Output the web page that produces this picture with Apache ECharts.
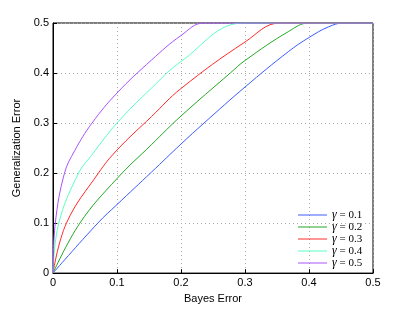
<!DOCTYPE html>
<html>
<head>
<meta charset="utf-8">
<script src="https://cdn.jsdelivr.net/npm/echarts@6/dist/echarts.min.js"></script>
<style>
  html, body { margin: 0; padding: 0; background: #fff; }
  #chart { width: 411px; height: 309px; }
</style>
</head>
<body>
<div id="chart"></div>
<script>
// tick labels for both axes
const tickValues = [0, 0.1, 0.2, 0.3, 0.4, 0.5]
const gammaLabels = ['0.1', '0.2', '0.3', '0.4', '0.5']

// [bayes error, generalization error]
const curveG1 = [[0, 0], [0.07, 0.1], [0.1, 0.137], [0.154, 0.202], [0.2, 0.258], [0.236, 0.3], [0.3, 0.372], [0.368, 0.443], [0.4, 0.471], [0.43, 0.492], [0.454, 0.5], [0.5, 0.5]]
const curveG2 = [[0, 0], [0.042, 0.1], [0.1, 0.189], [0.154, 0.257], [0.2, 0.314], [0.277, 0.4], [0.3, 0.425], [0.368, 0.483], [0.4, 0.5], [0.5, 0.5]]
const curveG3 = [[0, 0], [0.021, 0.1], [0.071, 0.2], [0.1, 0.246], [0.154, 0.313], [0.2, 0.369], [0.3, 0.462], [0.355, 0.5], [0.5, 0.5]]
const curveG4 = [[0, 0], [0.009, 0.1], [0.04, 0.2], [0.06, 0.235], [0.1, 0.3], [0.154, 0.37], [0.2, 0.423], [0.298, 0.5], [0.5, 0.5]]
const curveG5 = [[0, 0], [0.0036, 0.1], [0.018, 0.2], [0.034, 0.245], [0.061, 0.3], [0.1, 0.36], [0.154, 0.426], [0.2, 0.475], [0.236, 0.5], [0.5, 0.5]]

const curves = [curveG1, curveG2, curveG3, curveG4, curveG5]
const colors = ['#3a5cff', '#22a822', '#ff2a2a', '#5cffc0', '#a852ff']

const chart = echarts.init(document.getElementById('chart'))

const axisCommon = {
  type: 'value',
  min: 0,
  max: 0.5,
  interval: 0.1,
  nameLocation: 'middle',
  nameTextStyle: { color: '#000', fontSize: 11, fontFamily: 'Liberation Sans' },
  axisLine: { show: true, lineStyle: { color: '#000', width: 1 } },
  axisTick: { show: true, inside: true, length: 4, lineStyle: { color: '#000' } },
  axisLabel: {
    color: '#000',
    fontSize: 11,
    fontFamily: 'Liberation Sans',
    margin: 4,
    formatter: v => tickValues.includes(+v.toFixed(1)) ? String(+v.toFixed(1)) : ''
  },
  splitLine: { show: true, lineStyle: { type: [1, 3], color: '#aaa', width: 1 } }
}

chart.setOption({
  animation: false,
  backgroundColor: '#fff',
  grid: {
    left: 53,
    right: 38,
    top: 23,
    bottom: 35,
    show: true,
    borderColor: '#000',
    borderWidth: 1
  },
  xAxis: { ...axisCommon, name: 'Bayes Error', nameGap: 19 },
  yAxis: { ...axisCommon, name: 'Generalization Error', nameGap: 25 },
  legend: {
    orient: 'vertical',
    left: 293,
    top: 204,
    icon: 'rect',
    itemWidth: 29,
    itemHeight: 1,
    itemGap: 0,
    formatter: name => name.replace('γ', '{g|γ}'),
    textStyle: {
      color: '#000',
      fontSize: 11,
      lineHeight: 11.8,
      fontFamily: 'Liberation Serif',
      rich: {
        g: { fontStyle: 'italic', fontFamily: 'Liberation Serif', fontSize: 12, lineHeight: 11.8 }
      }
    }
  },
  series: curves.map((data, i) => ({
    name: 'γ = ' + gammaLabels[i],
    type: 'line',
    data: data,
    smooth: 0.4,
    showSymbol: false,
    clip: true,
    color: colors[i],
    lineStyle: { width: 1, color: colors[i] }
  }))
})
</script>
</body>
</html>
